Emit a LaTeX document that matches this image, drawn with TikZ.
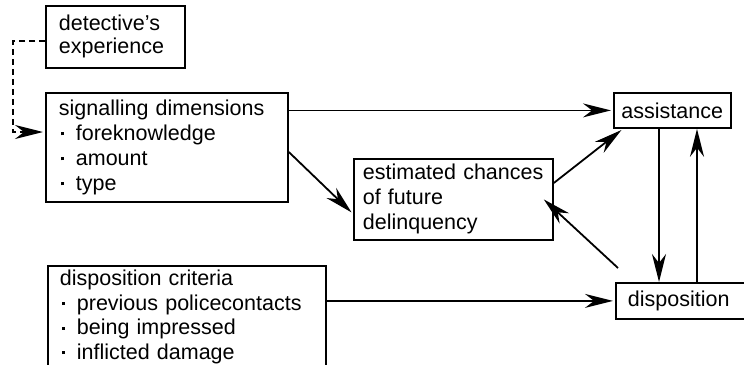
\documentclass[tikz,border=0pt]{standalone}
\usepackage{fontspec}
\setmainfont{Liberation Sans}
\usetikzlibrary{arrows.meta,calc}
% list entry with a small square dot
\newcommand{\itm}{\makebox[17pt][l]{\hspace{2pt}\raisebox{5pt}{\rule{3pt}{3pt}}}}
\begin{document}
\begin{tikzpicture}[x=1pt,y=-1pt,
  box/.style={draw, line width=1.8pt, anchor=north west, inner ysep=0pt,
    align=left, font=\fontsize{21.5}{25}\selectfont},
  link/.style={line width=1.8pt, -{Stealth[length=28pt,width=14pt,inset=9pt]}, shorten >=2pt},
  dashlink/.style={link, dash pattern=on 6pt off 4pt},
]
\useasboundingbox (0,0) rectangle (744,364);
\clip (0,0) rectangle (744,364);

% boxes
\node[box, inner xsep=13pt, text width=113pt, minimum height=62pt,
  font=\fontsize{21.5}{23}\selectfont] (exp) at (45,5) {detective's\\experience};
\node[box, inner xsep=13pt, text width=216pt, minimum height=109pt] (sig) at (45,92)
  {signalling dimensions\\\itm foreknowledge\\\itm amount\\\itm type};
\node[box, inner xsep=9pt, text width=181pt, minimum height=81pt] (est) at (353,158)
  {estimated chances\\of future\\delinquency};
\node[box, inner xsep=7.5pt, text width=102pt, minimum height=35pt] (assist) at (613,92)
  {assistance};
\node[box, inner xsep=12pt, text width=126pt, minimum height=36pt] (disp) at (615,282)
  {disposition};
\node[box, inner xsep=12pt, text width=254pt, minimum height=102pt,
  font=\fontsize{21.5}{24.5}\selectfont] (crit) at (47,265)
  {disposition criteria\\\itm previous policecontacts\\\itm being impressed\\\itm inflicted damage};

% connectors
\draw[dashlink] ($(exp.west)+(0,4)$) -- ++(-32,0) |- ($(sig.north west)+(0,40)$);
\draw[link] (assist.west -| sig.east) -- (assist.west);
\draw[link] ($(sig.north east)+(0,60)$) -- ($(est.south west)+(0,-27)$);
\draw[link] ($(est.north east)+(0,25)$) -- ($(assist.south west)+(10,0)$);
\draw[link, shorten >=0pt] ($(disp.north west)+(3,-14)$) -- ($(est.east)+(-10,0)$);
\draw[link, shorten >=0pt] ($(assist.south west)+(46,0)$) -- ($(disp.north west)+(44,0)$);
\draw[link, shorten >=0pt] ($(disp.north west)+(82,0)$) -- ($(assist.south west)+(84,0)$);
\draw[link] (disp.west -| crit.east) -- (disp.west);
\end{tikzpicture}
\end{document}
